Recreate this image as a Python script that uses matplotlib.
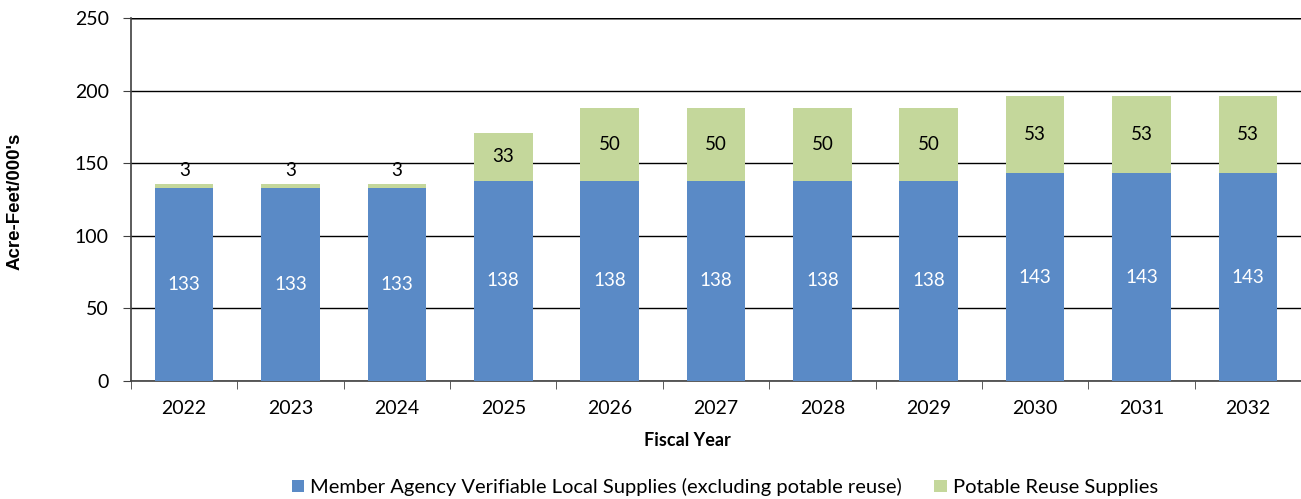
import matplotlib
matplotlib.use("Agg")
import matplotlib.pyplot as plt
import numpy as np

years = ["2022", "2023", "2024", "2025", "2026", "2027", "2028", "2029", "2030", "2031", "2032"]
local_supplies = [133, 133, 133, 138, 138, 138, 138, 138, 143, 143, 143]
potable_reuse = [3, 3, 3, 33, 50, 50, 50, 50, 53, 53, 53]
series_names = ["Member Agency Verifiable Local Supplies (excluding potable reuse)", "Potable Reuse Supplies"]
yticks = [0, 50, 100, 150, 200, 250]

plt.rcParams['font.family'] = ['Lato', 'DejaVu Sans']
blue = "#5A8AC6"
green = "#C4D79B"

fig = plt.figure(figsize=(13.01, 4.99), dpi=100)
ax = fig.add_axes([131/1301, 1-381/499, 1-131/1301, 363/499])

x = np.arange(len(years))
w = 0.55
b1 = ax.bar(x, local_supplies, w, color=blue, label=series_names[0], zorder=3)
b2 = ax.bar(x, potable_reuse, w, bottom=local_supplies, color=green, label=series_names[1], zorder=3)

for xi, v in zip(x, local_supplies):
    ax.text(xi, v/2, str(v), ha='center', va='center', color='white', fontsize=13.5, zorder=4)
for xi, base, v in zip(x, local_supplies, potable_reuse):
    if v < 10:
        ax.text(xi, base + v + 3, str(v), ha='center', va='bottom', color='black', fontsize=13.5, zorder=4)
    else:
        ax.text(xi, base + v/2, str(v), ha='center', va='center', color='black', fontsize=13.5, zorder=4)

ax.set_xlim(-0.5, len(years)-0.5)
ax.set_ylim(0, 250)
ax.set_yticks(yticks)
ax.set_yticklabels([str(t) for t in yticks], fontsize=14)
ax.set_xticks(x)
ax.set_xticklabels(years, fontsize=14)
ax.set_xticks(np.arange(-0.5, len(years), 1), minor=True)
ax.tick_params(axis='x', which='major', length=0, pad=14)
ax.tick_params(axis='x', which='minor', length=6, color='#404040', direction='out')
ax.tick_params(axis='y', length=6, color='#404040', direction='out', pad=10)

ax.grid(axis='y', color='black', linewidth=1.0, zorder=0)
for s in ['top', 'right']:
    ax.spines[s].set_visible(False)
ax.spines['left'].set_color('#404040')
ax.spines['bottom'].set_color('#404040')
ax.spines['left'].set_linewidth(1.2)
ax.spines['bottom'].set_linewidth(1.2)
ax.axhline(250, color='#909090', linewidth=2, zorder=1)

ax.set_xlabel("Fiscal Year", fontsize=13, fontweight='bold')
ax.xaxis.set_label_coords((687-131)/1170, -(441-381)/363)
ax.xaxis.label.set_va('center')
ax.set_ylabel("Acre-Feet/000's", fontsize=13.5, fontweight='bold', family=['Liberation Sans', 'DejaVu Sans'])
ax.yaxis.set_label_coords(-(131-15)/1170, (381-201)/363)
ax.yaxis.label.set_va('center')

leg = fig.legend(handles=[b1, b2], loc='center', bbox_to_anchor=(725/1301, 1-487/499), ncol=2,
                 frameon=False, fontsize=14.5, handlelength=0.6, handleheight=0.6,
                 handletextpad=0.3, columnspacing=1.6)

fig.savefig("out.png", dpi=100)
